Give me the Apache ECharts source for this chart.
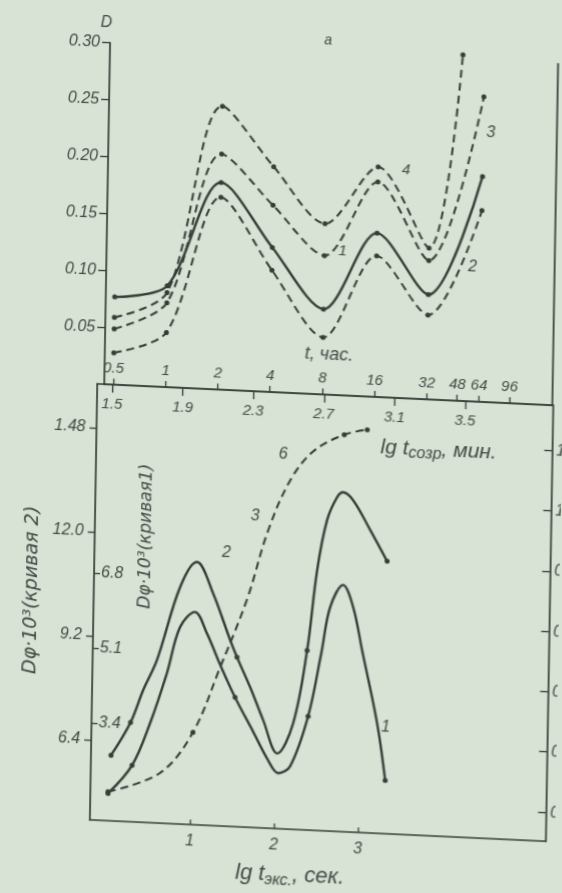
<!DOCTYPE html>
<html><head><meta charset="utf-8">
<script src="https://cdn.jsdelivr.net/npm/echarts@6/dist/echarts.min.js"></script>
<style>
html,body{margin:0;padding:0;background:#d8e2d5;overflow:hidden;width:562px;height:893px}
#c{width:562px;height:893px;transform-origin:100px 400px;transform:matrix(1,0.047,-0.017,1,0,0)}
</style></head><body><div id="c"></div>
<script>
// ---- panel "а": D vs t, час. (log2 time axis)
const tTicks = [0.5, 1, 2, 4, 8, 16, 32, 48, 64, 96];
const dTicks = [0.05, 0.10, 0.15, 0.20, 0.25, 0.30];
const tSolid = [0.5, 1, 2, 4, 8, 16, 32, 64];
const dSolid = [0.077, 0.089, 0.182, 0.127, 0.075, 0.144, 0.092, 0.198];
const tDashA = [0.5, 1, 2, 4, 8, 16, 32, 48];
const dDashA = [0.059, 0.083, 0.249, 0.198, 0.150, 0.202, 0.133, 0.304];
const tDashB = [0.5, 1, 2, 4, 8, 16, 32, 64];
const dDashB = [0.049, 0.074, 0.207, 0.164, 0.122, 0.189, 0.122, 0.268];
const tDashC = [0.5, 1, 2, 4, 8, 16, 32, 64];
const dDashC = [0.028, 0.048, 0.169, 0.107, 0.050, 0.124, 0.074, 0.168];

// ---- lower panel: Dφ·10³ vs lg t_экс (curves 1, 2) and lg t_созр (curve 6)
const expTicks = [1, 2, 3];
const ageTicks = [1.5, 1.9, 2.3, 2.7, 3.1, 3.5];
const c2Ticks = [6.4, 9.2, 12.0, 14.8];
const c1Ticks = [3.4, 5.1, 6.8];
const c6Ticks = [0, 0.2, 0.4, 0.6, 0.8, 1.0, 1.2];

const lgExp2 = [0.048, 0.274, 0.417, 0.576, 0.836, 1.033, 1.230, 1.442, 1.527, 1.689, 1.851, 2.024, 2.208, 2.360, 2.463, 2.571, 2.686, 2.756, 2.877, 3.086, 3.294];
const val2   = [6.01, 6.92, 7.80, 8.63, 10.62, 11.32, 10.50, 9.26, 8.81, 8.02, 7.15, 6.27, 7.10, 9.08, 11.25, 12.61, 13.24, 13.38, 13.18, 12.40, 11.58];
const dots2  = [0, 1, 8, 13, 20];

const lgExp1 = [0.020, 0.300, 0.506, 0.696, 0.843, 1.019, 1.165, 1.327, 1.512, 1.732, 1.918, 2.039, 2.181, 2.385, 2.529, 2.625, 2.775, 2.899, 3.014, 3.208, 3.315];
const val1   = [1.82, 2.48, 3.45, 4.60, 5.66, 6.02, 5.55, 4.86, 4.13, 3.38, 2.74, 2.46, 2.63, 3.78, 5.22, 6.27, 6.79, 6.30, 5.33, 3.69, 2.41];
const dots1  = [0, 1, 8, 13, 20];

const lgAge6 = [1.515, 1.807, 1.990, 2.138, 2.284, 2.396, 2.516, 2.644, 2.818, 2.948];
const val6   = [0.00, 0.07, 0.21, 0.43, 0.66, 0.89, 1.06, 1.16, 1.22, 1.24];
const dots6  = [0, 2, 8, 9];

const INK = '#363c36';
const TXT = '#454b45';
const FONT = 'Liberation Sans';
const WIDE = 'DejaVu Sans';
const lab = (extra) => Object.assign({color: TXT, fontFamily: FONT, fontStyle: 'italic', fontSize: 15}, extra || {});
const pairs = (xs, ys, fx) => xs.map((x, i) => [fx ? fx(x) : x, ys[i]]);
const dotSize = (list, s) => (v, p) => (list === null || list.indexOf(p.dataIndex) >= 0) ? s : 0;

function lineSeries(data, xi, yi, dashed, dots, smooth) {
  return {
    type: 'line', xAxisIndex: xi, yAxisIndex: yi, data: data, smooth: smooth,
    clip: false, symbol: 'circle', symbolSize: dotSize(dots, 5), showSymbol: true,
    lineStyle: {color: INK, width: dashed ? 2 : 2.4, type: dashed ? [8, 5] : 'solid'},
    itemStyle: {color: INK}, silent: true
  };
}
function txt(x, y, text, size, extra, family) {
  return Object.assign({type: 'text', x: x, y: y,
    style: Object.assign(lab({fontSize: size, fontFamily: family || FONT}), {text: text, align: 'center', verticalAlign: 'middle', fill: TXT})}, extra || {});
}

const chart = echarts.init(document.getElementById('c'), null, {renderer: 'canvas'});
const axisLineStyle = {show: true, onZero: false, lineStyle: {color: INK, width: 1.7}};
const tickStyle = {color: INK, width: 1.3};
const opt = {
  animation: false,
  backgroundColor: '#d8e2d5',
  grid: [
    {left: 104, right: 10, top: 42.6, height: 341.4, outerBoundsMode: 'none', containLabel: false},
    {left: 97, right: 9.3, top: 384, height: 436, outerBoundsMode: 'none', containLabel: false}
  ],
  xAxis: [
    {gridIndex: 0, type: 'value', min: -1.1724, max: 7.410, axisLine: axisLineStyle,
     splitLine: {show: false},
     axisTick: {inside: true, length: 6, customValues: tTicks.map(Math.log2), lineStyle: tickStyle},
     axisLabel: Object.assign(lab({fontSize: 15}), {inside: true, margin: 9,
       customValues: tTicks.map(Math.log2),
       formatter: v => String(+Math.pow(2, v).toFixed(1))})},
    {gridIndex: 1, type: 'value', position: 'bottom', min: -0.190, max: 5.235, axisLine: axisLineStyle,
     splitLine: {show: false},
     axisTick: {inside: true, length: 5, customValues: expTicks, lineStyle: tickStyle},
     axisLabel: Object.assign(lab({fontSize: 16}), {margin: 9, customValues: expTicks, formatter: v => String(v)})},
    {gridIndex: 1, type: 'value', position: 'top', min: 1.415, max: 3.997, axisLine: axisLineStyle,
     splitLine: {show: false},
     axisTick: {inside: true, length: 8, customValues: ageTicks, lineStyle: tickStyle},
     axisLabel: Object.assign(lab({fontSize: 15}), {inside: true, margin: 12, customValues: ageTicks, formatter: v => v.toFixed(1)})}
  ],
  yAxis: [
    {gridIndex: 0, type: 'value', min: 0, max: 0.30, axisLine: axisLineStyle, splitLine: {show: false},
     axisTick: {length: 8, customValues: dTicks, lineStyle: tickStyle},
     axisLabel: Object.assign(lab({fontSize: 16}), {margin: 10, customValues: dTicks, formatter: v => v.toFixed(2)})},
    {gridIndex: 0, type: 'value', position: 'right', min: 0, max: 0.30, axisLine: axisLineStyle,
     splitLine: {show: false}, axisTick: {show: false}, axisLabel: {show: false}},
    {gridIndex: 1, type: 'value', position: 'left', min: 4.246, max: 15.985, axisLine: axisLineStyle,
     splitLine: {show: false},
     axisTick: {length: 7, customValues: c2Ticks, lineStyle: tickStyle},
     axisLabel: Object.assign(lab({fontSize: 16}), {margin: 11, customValues: c2Ticks,
       formatter: v => Math.abs(v - 14.8) < 1e-6 ? '1.48' : v.toFixed(1)})},
    {gridIndex: 1, type: 'value', position: 'left', min: 1.201, max: 11.083, axisLine: {show: false, onZero: false},
     splitLine: {show: false},
     axisTick: {show: true, inside: true, length: 6, customValues: c1Ticks, lineStyle: tickStyle},
     axisLabel: Object.assign(lab({fontSize: 16}), {inside: true, margin: 7, customValues: c1Ticks, formatter: v => v.toFixed(1)})},
    {gridIndex: 1, type: 'value', position: 'right', min: -0.096, max: 1.35, axisLine: axisLineStyle,
     splitLine: {show: false},
     axisTick: {inside: true, length: 8, customValues: c6Ticks, lineStyle: tickStyle},
     axisLabel: Object.assign(lab({fontSize: 16}), {margin: 4, customValues: c6Ticks, formatter: v => v.toFixed(1)})}
  ],
  series: [
    lineSeries(pairs(tSolid, dSolid, Math.log2), 0, 0, false, null, 0.3),
    lineSeries(pairs(tDashA, dDashA, Math.log2), 0, 0, true, null, 0.3),
    lineSeries(pairs(tDashB, dDashB, Math.log2), 0, 0, true, null, 0.3),
    lineSeries(pairs(tDashC, dDashC, Math.log2), 0, 0, true, null, 0.3),
    lineSeries(pairs(lgExp2, val2), 1, 2, false, dots2, 0.35),
    lineSeries(pairs(lgExp1, val1), 1, 3, false, dots1, 0.35),
    lineSeries(pairs(lgAge6, val6), 2, 4, true, dots6, 0.35)
  ],
  graphic: [
    txt(100, 23, 'D', 16),
    txt(322, 30, 'а', 14),
    txt(328, 344, 't, час.', 18),
    {type: 'text', x: 381, y: 434, style: {text: '{a|lg t}{s|созр}{a|, мин.}', align: 'left', verticalAlign: 'middle', fill: TXT,
      rich: {a: lab({fontSize: 21, lineHeight: 26, verticalAlign: 'middle'}), s: lab({fontSize: 16, lineHeight: 26, verticalAlign: 'bottom'})}}},
    {type: 'text', x: 243, y: 866, style: {text: '{a|lg t}{s|экс.}{a|, сек.}', align: 'left', verticalAlign: 'middle', fill: TXT,
      rich: {a: lab({fontSize: 22, lineHeight: 28, verticalAlign: 'middle'}), s: lab({fontSize: 16, lineHeight: 28, verticalAlign: 'bottom'})}}},
    txt(35, 593, 'Dφ·10³(кривая 2)', 19, {rotation: Math.PI / 2}, WIDE),
    txt(149, 534, 'Dφ·10³(кривая1)', 17, {rotation: Math.PI / 2}, WIDE),
    txt(402, 156, '4', 15),
    txt(340, 240, '1', 15),
    txt(486, 115, '3', 16),
    txt(470, 250, '2', 16),
    txt(229, 547, '2', 16),
    txt(391, 714, '1', 16),
    txt(257, 509, '3', 16),
    txt(284, 446, '6', 16)
  ]
};
chart.setOption(opt);
</script></body></html>
